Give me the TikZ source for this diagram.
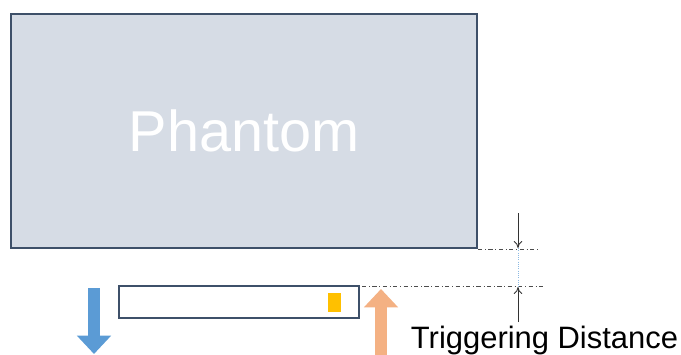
\documentclass[tikz,border=0pt]{standalone}
\usepackage{fontspec}
\setmainfont{Liberation Sans}
\usetikzlibrary{arrows.meta}
\definecolor{phantomfill}{HTML}{D6DCE5}
\definecolor{edgeblue}{HTML}{3E5069}
\definecolor{movblue}{HTML}{5B9BD5}
\definecolor{trigorange}{HTML}{F4B183}
\definecolor{markyellow}{HTML}{FFC000}
\tikzstyle{phantombox} = [rectangle, draw=edgeblue, fill=phantomfill, line width=1.8pt,
    minimum width=11.65cm, minimum height=5.85cm, text=white,
    font=\fontsize{41}{48}\selectfont]
\tikzstyle{detector} = [rectangle, draw=edgeblue, fill=white, line width=1.5pt,
    minimum width=6cm, minimum height=0.8cm]
\tikzstyle{marker} = [rectangle, fill=markyellow, inner sep=0pt,
    minimum width=0.33cm, minimum height=0.47cm]
\tikzstyle{block} = [line width=8.5pt, -{Triangle[length=13pt,width=23.5pt]}]
\tikzstyle{guide} = [draw=black!70, dash dot, line width=0.5pt]
\tikzstyle{dim} = [draw=black!80, line width=0.6pt, -{To[length=5pt,width=6pt]}]

\begin{document}
\begin{tikzpicture}[x=0.025cm, y=-0.025cm]
        \useasboundingbox (0,0) rectangle (681,354);
        % Place nodes
        \node [phantombox] (phantom) at (244,131) {Phantom};
        \node [detector] (bar) at (239,302) {};
        \node [marker] (mark) at (334.5,302.5) {};
        \node [anchor=base west, font=\fontsize{22}{26}\selectfont] (label) at (406,348) {Triggering Distance};
        \coordinate (upL) at (478,249);
        \coordinate (upR) at (540,249);
        \coordinate (loL) at (362,286);
        \coordinate (loR) at (545,286);
        \coordinate (upA) at (518,213);
        \coordinate (upB) at (518,248);
        \coordinate (loA) at (518,322);
        \coordinate (loB) at (518,287);
        \coordinate (blueA) at (94,288);
        \coordinate (blueB) at (94,354);
        \coordinate (orA) at (381,356);
        \coordinate (orB) at (381,289);
        % Draw edges
        \path [guide] (upL) -- (upR);
        \path [guide] (loL) -- (loR);
        \path [draw=movblue!70, densely dotted, line width=0.6pt] (upB) -- (loB);
        \path [dim] (upA) -- (upB);
        \path [dim] (loA) -- (loB);
        \path [block, draw=movblue, fill=movblue] (blueA) -- (blueB);
        \path [block, draw=trigorange, fill=trigorange] (orA) -- (orB);
    \end{tikzpicture}
\end{document}
